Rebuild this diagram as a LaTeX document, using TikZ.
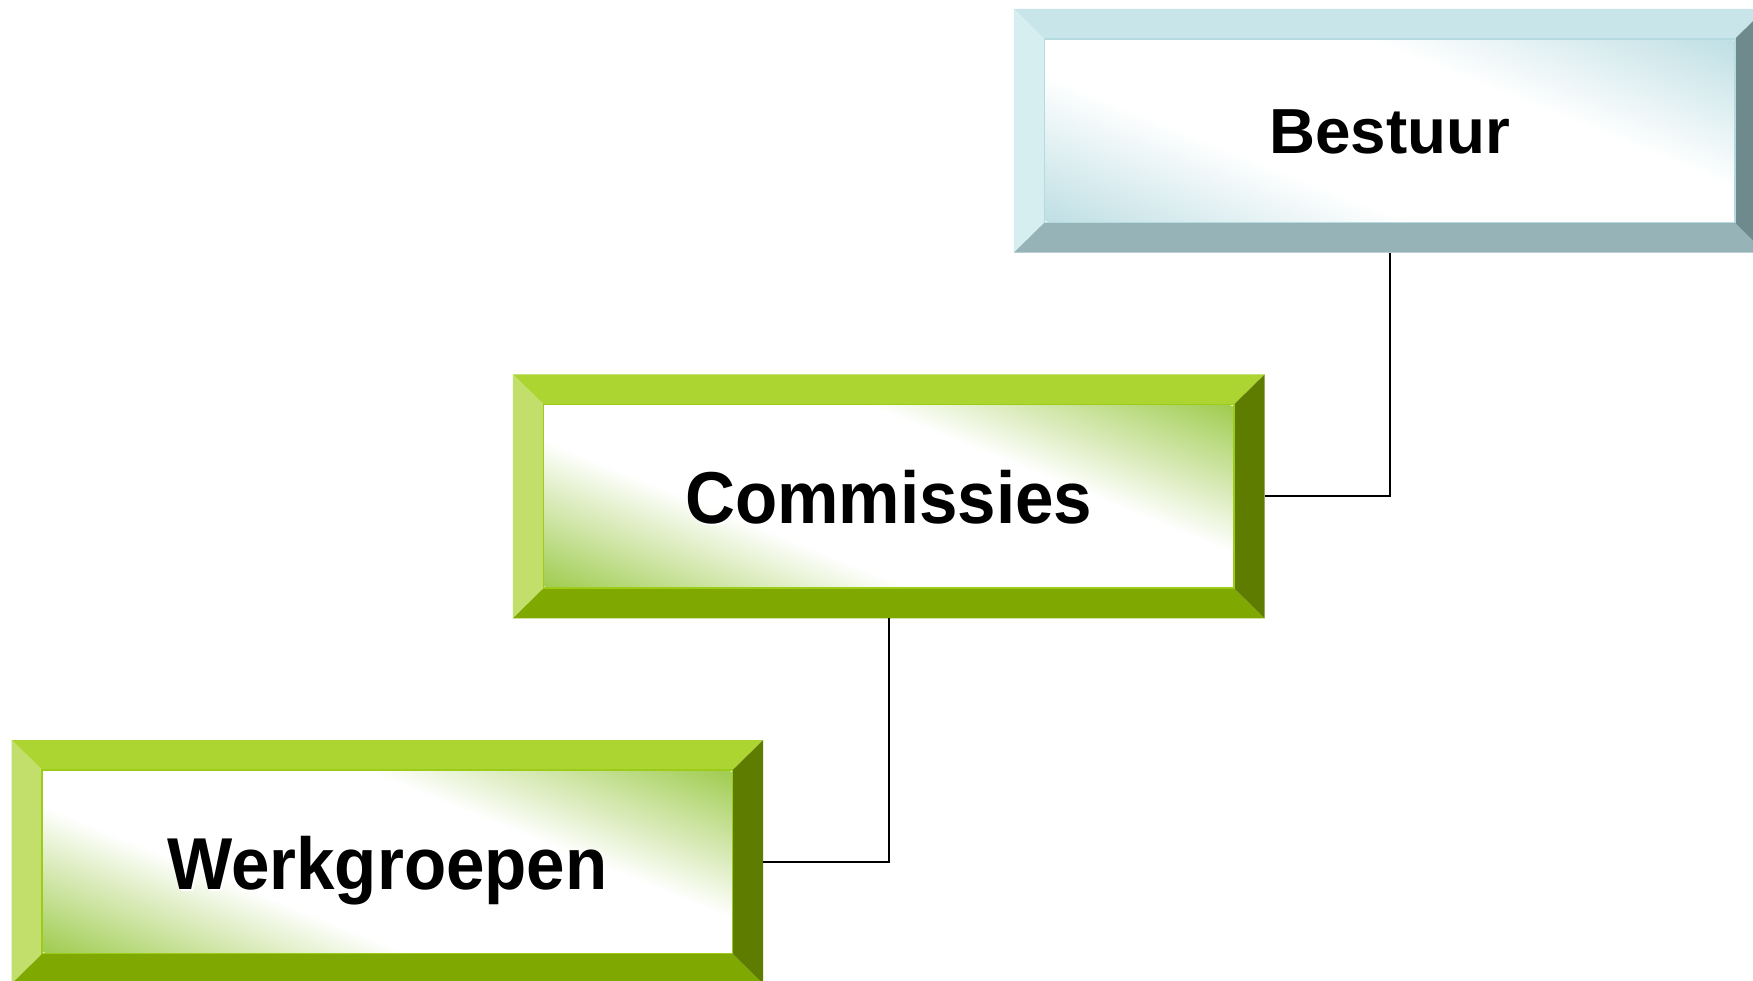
\documentclass[tikz,border=0pt]{standalone}
\usepackage{fontspec}
\setmainfont{Liberation Sans}
\usetikzlibrary{calc}
\definecolor{bTop}{HTML}{C8E6E9}
\definecolor{bLeft}{HTML}{D6EEF0}
\definecolor{bBot}{HTML}{96B3B7}
\definecolor{bRight}{HTML}{6F8A8D}
\definecolor{bFace}{HTML}{BFDFE4}
\definecolor{bEdge}{HTML}{B5DADF}
\definecolor{gTop}{HTML}{ACD531}
\definecolor{gLeft}{HTML}{C3DF6B}
\definecolor{gBot}{HTML}{7FA800}
\definecolor{gRight}{HTML}{5E7D00}
\definecolor{gFace}{HTML}{A0CC50}
\definecolor{gEdge}{HTML}{9CCB1A}
\pgfdeclareverticalshading{bfaceshade}{100bp}{color(0bp)=(bFace); color(25bp)=(bFace); color(41bp)=(white); color(59bp)=(white); color(75bp)=(bFace); color(100bp)=(bFace)}
\pgfdeclareverticalshading{gfaceshade}{100bp}{color(0bp)=(gFace); color(25bp)=(gFace); color(41bp)=(white); color(59bp)=(white); color(75bp)=(gFace); color(100bp)=(gFace)}
\newcommand\bevbox[8]{%
  \node[outerbox] (#1) at (#2) {};
  \node[innerbox] (#1i) at (#2) {};
  \fill[#3] (#1.north west) -- (#1.north east) -- (#1i.north east) -- (#1i.north west) -- cycle;
  \fill[#4] (#1.north west) -- (#1i.north west) -- (#1i.south west) -- (#1.south west) -- cycle;
  \fill[#5] (#1.south west) -- (#1.south east) -- (#1i.south east) -- (#1i.south west) -- cycle;
  \fill[#6] (#1.north east) -- (#1.south east) -- (#1i.south east) -- (#1i.north east) -- cycle;
  \begin{scope}
    \clip (#1i.north west) rectangle (#1i.south east);
    \begin{scope}[transform canvas={shift={(#1i.center)},rotate=-22}]
      \shade[shading=#7] (-335,-190) rectangle (335,190);
    \end{scope}
  \end{scope}
  \draw[#8, line width=0.4pt] (#1i.north west) rectangle (#1i.south east);
}
\begin{document}
\begin{tikzpicture}[x=0.01cm,y=-0.01cm,
  outerbox/.style={minimum width=6.72cm,minimum height=2.18cm,inner sep=0pt,outer sep=0pt},
  innerbox/.style={minimum width=6.17cm,minimum height=1.64cm,inner sep=0pt,outer sep=0pt},
  lblbig/.style={font=\bfseries\fontsize{18.7}{20}\selectfont, xscale=0.94, inner sep=0pt, anchor=base},
  lblsmall/.style={font=\bfseries\fontsize{16.2}{18}\selectfont, inner sep=0pt, anchor=base},
  conn/.style={draw=black,line width=0.5pt}]
\clip (0,0) rectangle (1568,877);
\fill[white] (0,0) rectangle (1568,877);
\bevbox{bestuur}{1243,117}{bTop}{bLeft}{bBot}{bRight}{bfaceshade}{bEdge}
\bevbox{commissies}{795,444}{gTop}{gLeft}{gBot}{gRight}{gfaceshade}{gEdge}
\bevbox{werkgroepen}{346.5,771}{gTop}{gLeft}{gBot}{gRight}{gfaceshade}{gEdge}
\node[lblsmall] (bestuurT) at ($(bestuur)+(0,20.5)$) {Bestuur};
\node[lblbig, text=white] (commissiesS) at ($(commissies)+(2,26)$) {Commissies};
\node[lblbig] (commissiesT) at ($(commissies)+(0,24)$) {Commissies};
\node[lblbig, text=white] (werkgroepenS) at ($(werkgroepen)+(2,26.5)$) {Werkgroepen};
\node[lblbig] (werkgroepenT) at ($(werkgroepen)+(0,24.5)$) {Werkgroepen};
\draw[conn] (bestuur.south) |- (commissies.east);
\draw[conn] (commissies.south) |- (werkgroepen.east);
\end{tikzpicture}
\end{document}
